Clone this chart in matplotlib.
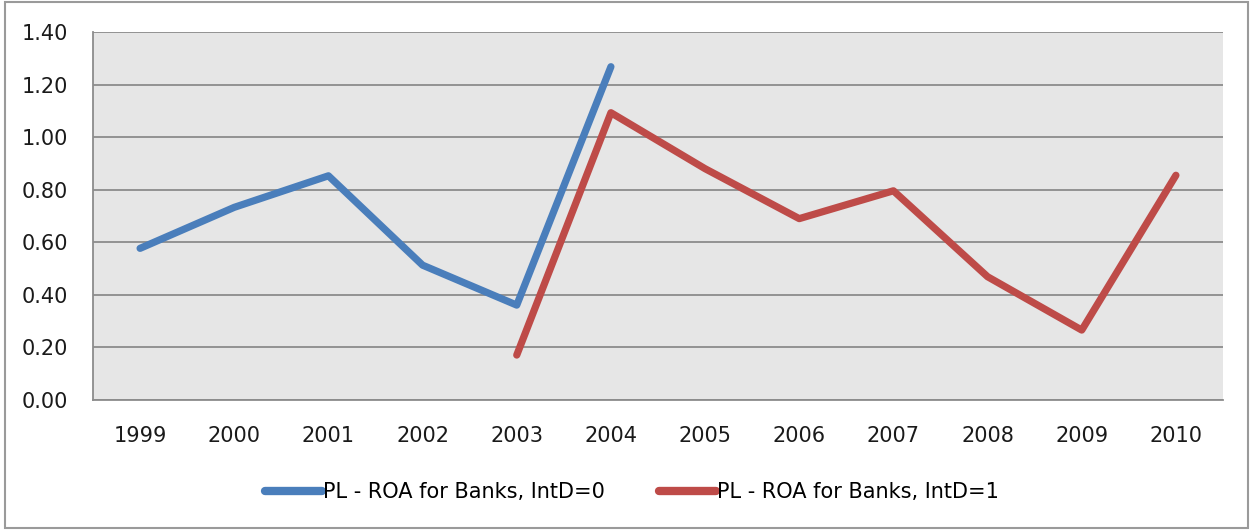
import matplotlib
matplotlib.use("Agg")
import matplotlib.pyplot as plt
from matplotlib.patches import Rectangle

years = ["1999", "2000", "2001", "2002", "2003", "2004",
         "2005", "2006", "2007", "2008", "2009", "2010"]
roa_intd0 = [0.577, 0.733, 0.853, 0.513, 0.361, 1.268,
             None, None, None, None, None, None]
roa_intd1 = [None, None, None, None, 0.171, 1.093,
             0.880, 0.690, 0.796, 0.469, 0.266, 0.855]
y_ticks = [0.0, 0.2, 0.4, 0.6, 0.8, 1.0, 1.2, 1.4]

plt.rcParams["font.family"] = ["DejaVu Sans"]

fig = plt.figure(figsize=(12.5, 5.31), dpi=100)
ax = fig.add_axes([0.0744, 0.2467, 0.904, 0.6930])

# outer chart frame
fig.patches.append(Rectangle((0.004, 0.006), 0.994, 0.99, transform=fig.transFigure,
                             fill=False, edgecolor="#9A9A9A", linewidth=1.5))

ax.set_facecolor("#E6E6E6")
x = list(range(len(years)))


def segment(vals):
    xs = [i for i, v in zip(x, vals) if v is not None]
    ys = [v for v in vals if v is not None]
    return xs, ys


xs0, ys0 = segment(roa_intd0)
xs1, ys1 = segment(roa_intd1)
ax.plot(xs0, ys0, color="#4A7EBB", linewidth=5.2, solid_capstyle="round",
        solid_joinstyle="round", label="PL - ROA for Banks, IntD=0", zorder=3)
ax.plot(xs1, ys1, color="#BE4B48", linewidth=5.2, solid_capstyle="round",
        solid_joinstyle="round", label="PL - ROA for Banks, IntD=1", zorder=3)

ax.set_xlim(-0.5, len(years) - 0.5)
ax.set_ylim(0, 1.4)
ax.set_yticks(y_ticks)
ax.set_yticklabels([f"{v:.2f}" for v in y_ticks])
ax.set_xticks(x)
ax.set_xticklabels(years)
ax.yaxis.grid(True, color="#8C8C8C", linewidth=1.3)
ax.set_axisbelow(True)
ax.tick_params(axis="both", length=0, labelsize=15, colors="#1A1A1A")
ax.tick_params(axis="y", pad=18)
ax.tick_params(axis="x", pad=19)
for side in ["top", "right"]:
    ax.spines[side].set_visible(False)
ax.spines["left"].set_color("#8C8C8C")
ax.spines["bottom"].set_color("#8C8C8C")
ax.spines["left"].set_linewidth(1.3)
ax.spines["bottom"].set_linewidth(1.3)

leg = fig.legend(loc="center", bbox_to_anchor=(0.5056, 0.073), ncol=2, frameon=False,
                 fontsize=15, handlelength=2.75, handletextpad=0.05, columnspacing=2.6)
for line in leg.get_lines():
    line.set_linewidth(6)
    line.set_solid_capstyle("round")

fig.savefig("out.png", dpi=100)
